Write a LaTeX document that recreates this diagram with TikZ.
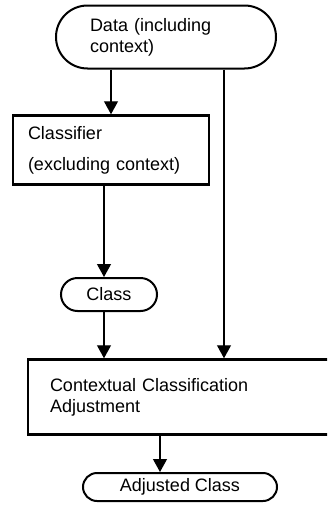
\documentclass[tikz,border=0pt]{standalone}
\usepackage{fontspec}
\setmainfont{Liberation Sans}
\usetikzlibrary{arrows.meta,shapes.misc}

\begin{document}
\begin{tikzpicture}[x=1pt,y=-1pt,font=\fontsize{18}{21}\selectfont]

        \tikzstyle{term}=[draw,rounded rectangle,line width=2pt,inner sep=0pt]
        \tikzstyle{procbox}=[draw,rectangle,line width=2.5pt,inner sep=0pt]
        \tikzstyle{flow}=[line width=1.2pt,-{Triangle[width=14pt,length=13pt]}]

        \useasboundingbox (0,0) rectangle (327,506);
        \clip (0,0) rectangle (327,506);

        %% Draw boxes
        \node[term,minimum width=220pt,minimum height=63pt,text width=152pt,align=left] (data) at (166,37) {Data (including\\context)};
        \node[procbox,minimum width=196pt,minimum height=69pt,text width=166pt,align=left] (classifier) at (111,150) {Classifier\\[10pt](excluding context)};
        \node[term,minimum width=96pt,minimum height=33pt] (class) at (109,294.5) {Class};
        \node[procbox,minimum width=312pt,minimum height=75pt,text width=268pt,align=left] (adjust) at (184,397) {Contextual Classification\\Adjustment};
        \node[term,minimum width=194pt,minimum height=28pt] (adjusted) at (180,487) {Adjusted Class};

        %% Draw arrows
        \draw[flow] (classifier.north |- data.south) -- (classifier.north);
        \draw[flow] ([xshift=-7pt]classifier.south) -- ([xshift=-5pt]class.north);
        \draw[flow] ([xshift=-5pt]class.south) -- ([xshift=-5pt]class.south |- adjust.north);
        \draw[flow] ([xshift=58pt]data.south) -- ([xshift=58pt]data.south |- adjust.north);
        \draw[flow] ([xshift=-20pt]adjusted.north |- adjust.south) -- ([xshift=-20pt]adjusted.north);

\end{tikzpicture}
\end{document}
